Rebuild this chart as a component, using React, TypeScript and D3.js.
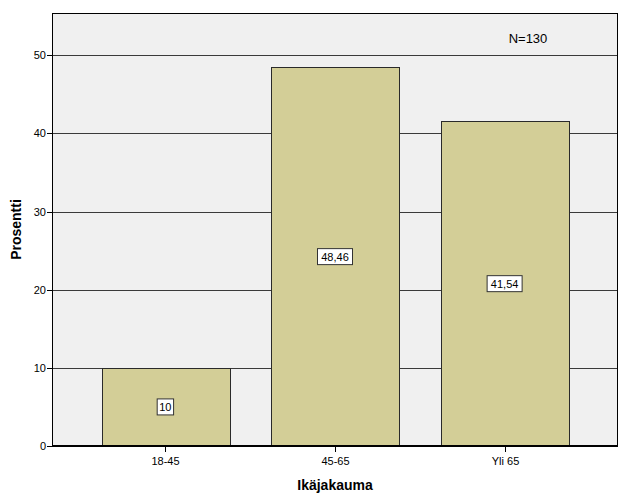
import React from "react";
import * as d3 from "d3";

const categories = ["18-45", "45-65", "Yli 65"];
const values = [10, 48.46, 41.54];
const valueLabels = ["10", "48,46", "41,54"];
const yTicks = [0, 10, 20, 30, 40, 50];

export default function App() {
  const W = 626, H = 501;
  const left = 52, right = 618, top = 13, bottom = 446;
  const x = d3.scaleBand<string>().domain(categories).range([left, right]).paddingInner(0.247).paddingOuter(0.292);
  const y = d3.scaleLinear().domain([0, 55.4]).range([bottom, top]);
  const font = "Arial, 'Liberation Sans', sans-serif";
  return (
    <svg width={W} height={H} style={{ position: "absolute", left: 0, top: 0, background: "#fff" }}>
      <rect x={left} y={top} width={right - left} height={bottom - top} fill="#F0F0F0" />
      {yTicks.filter(t => t > 0).map(t => (
        <line key={t} x1={left} x2={right} y1={Math.round(y(t)) + 0.5} y2={Math.round(y(t)) + 0.5} stroke="#3a3a3a" strokeWidth={1} />
      ))}
      {categories.map((c, i) => {
        const x0 = x(c)!;
        const bw = x.bandwidth();
        const yv = y(values[i]);
        const cx = x0 + bw / 2;
        const cy = (yv + bottom) / 2;
        const lw = valueLabels[i].length * 6.2 + 4;
        return (
          <g key={c}>
            <rect x={Math.round(x0) + 0.5} y={Math.round(yv) + 0.5} width={Math.round(bw)} height={bottom - Math.round(yv)} fill="#D3CE97" stroke="#2a2a2a" strokeWidth={1} />
            <rect x={cx - lw / 2} y={cy - 8} width={lw} height={16} fill="#fff" stroke="#333" strokeWidth={1} />
            <text x={cx} y={cy + 4} textAnchor="middle" fontFamily={font} fontSize={11} fill="#000">{valueLabels[i]}</text>
          </g>
        );
      })}
      <rect x={left + 0.5} y={top + 0.5} width={right - left - 1} height={bottom - top - 1} fill="none" stroke="#000" strokeWidth={1} />
      <line x1={left} x2={right} y1={bottom + 0.5} y2={bottom + 0.5} stroke="#000" />
      {yTicks.map(t => (
        <g key={t}>
          <line x1={left - 5} x2={left} y1={Math.round(y(t)) + 0.5} y2={Math.round(y(t)) + 0.5} stroke="#000" />
          <text x={left - 6} y={y(t) + 4} textAnchor="end" fontFamily={font} fontSize={11} fill="#000">{t}</text>
        </g>
      ))}
      {categories.map(c => {
        const cx = Math.round(x(c)! + x.bandwidth() / 2) + 0.5;
        return (
          <g key={c}>
            <line x1={cx} x2={cx} y1={bottom} y2={bottom + 6} stroke="#000" />
            <text x={cx} y={bottom + 19} textAnchor="middle" fontFamily={font} fontSize={11} fill="#000">{c}</text>
          </g>
        );
      })}
      <text x={528} y={43} textAnchor="middle" fontFamily={font} fontSize={13} fill="#000">N=130</text>
      <text x={335} y={490} textAnchor="middle" fontFamily={font} fontSize={14} fontWeight="bold" fill="#000">Ikäjakauma</text>
      <text transform={`translate(21, ${(top + bottom) / 2}) rotate(-90)`} textAnchor="middle" fontFamily={font} fontSize={14} fontWeight="bold" fill="#000">Prosentti</text>
    </svg>
  );
}
